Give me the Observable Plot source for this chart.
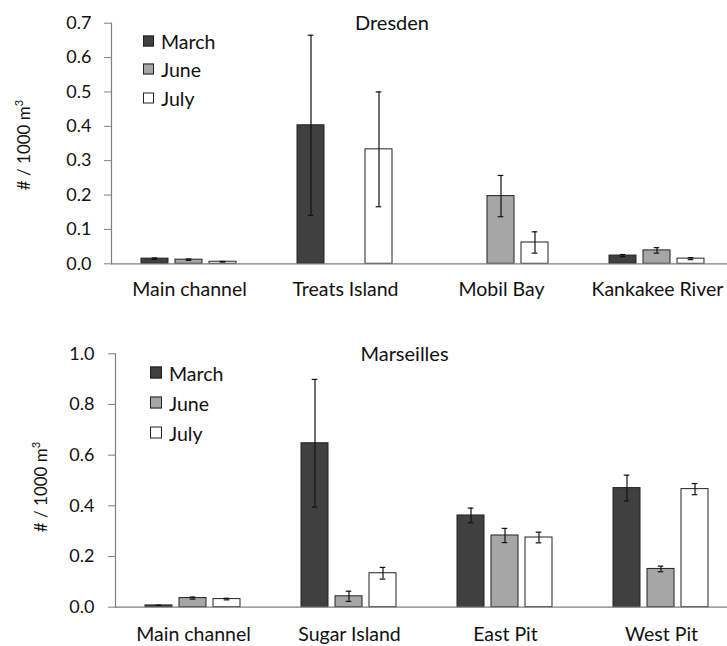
<!DOCTYPE html>
<html><head><meta charset="utf-8">
<script src="https://cdn.jsdelivr.net/npm/d3@7"></script>
<script src="https://cdn.jsdelivr.net/npm/@observablehq/plot@0.6"></script>
<style>
body{margin:0;background:#fff;font-family:Lato,sans-serif;color:#111}
.panel{position:relative;width:727px;overflow:hidden}
.title{position:absolute;font-size:20px;transform:translate(-50%,-50%);white-space:nowrap}
.ylab{position:absolute;font-size:17px;transform:translate(-50%,-50%) rotate(-90deg);white-space:nowrap}
.ylab sup{font-size:11px}
.item{position:absolute;display:flex;align-items:center;white-space:nowrap;font-size:19.5px;transform:translateY(-50%)}
.sw{box-sizing:border-box;border:1px solid #222;margin-right:7px}
</style></head><body>
<div id="top" class="panel" style="height:300px"></div>
<div id="bottom" class="panel" style="height:346px"></div>
<script>
// ---- data ----
const months = ["March", "June", "July"];
const monthFills = ["#404040", "#a6a6a6", "#ffffff"];

const dresdenSites = ["Main channel", "Treats Island", "Mobil Bay", "Kankakee River"];
const dresdenMarch    = [0.015, 0.403, null, 0.024];
const dresdenMarchErr = [0.002, 0.262, null, 0.003];
const dresdenJune     = [0.012, null, 0.197, 0.039];
const dresdenJuneErr  = [0.002, null, 0.060, 0.008];
const dresdenJuly     = [0.006, 0.333, 0.062, 0.015];
const dresdenJulyErr  = [0.001, 0.167, 0.031, 0.003];
const dresdenTicks = [0, 0.1, 0.2, 0.3, 0.4, 0.5, 0.6, 0.7];

const marseillesSites = ["Main channel", "Sugar Island", "East Pit", "West Pit"];
const marseillesMarch    = [0.007, 0.647, 0.362, 0.470];
const marseillesMarchErr = [0.001, 0.252, 0.029, 0.051];
const marseillesJune     = [0.036, 0.043, 0.283, 0.151];
const marseillesJuneErr  = [0.004, 0.020, 0.028, 0.011];
const marseillesJuly     = [0.032, 0.134, 0.275, 0.466];
const marseillesJulyErr  = [0.003, 0.023, 0.021, 0.022];
const marseillesTicks = [0, 0.2, 0.4, 0.6, 0.8, 1.0];

// ---- build ----
function rows(sites, series) {
  const out = [];
  sites.forEach((s, i) => months.forEach((m, j) => {
    const v = series[j][0][i];
    if (v != null) out.push({site: s, month: m, v, e: series[j][1][i]});
  }));
  return out;
}

function panel(data, sites, ticks, o) {
  const step = 156.6;
  return Plot.plot({
    width: 727, height: o.height,
    marginLeft: o.left, marginRight: 0, marginTop: o.top, marginBottom: o.bottom,
    style: {fontFamily: "Lato, sans-serif", fontSize: "16px", color: "#111", background: "#fff", overflow: "visible"},
    fx: {domain: sites, range: [o.left, o.left + sites.length * step], padding: 0, label: null},
    x: {domain: months, paddingInner: 0.2, paddingOuter: 0.857, axis: null},
    y: {domain: [0, ticks[ticks.length - 1]], label: null},
    color: {domain: months, range: monthFills},
    marks: [
      Plot.barY(data, {fx: "site", x: "month", y: "v", fill: "month", stroke: "#222", strokeWidth: 1}),
      Plot.ruleX(data, {fx: "site", x: "month", y1: d => d.v - d.e, y2: d => d.v + d.e, stroke: "#111", strokeWidth: 1.2}),
      Plot.tickY(data, {fx: "site", x: "month", y: d => d.v + d.e, insetLeft: 10.7, insetRight: 10.7, stroke: "#111", strokeWidth: 1.2}),
      Plot.tickY(data, {fx: "site", x: "month", y: d => d.v - d.e, insetLeft: 10.7, insetRight: 10.7, stroke: "#111", strokeWidth: 1.2}),
      Plot.ruleY([0], {stroke: "#7f7f7f", strokeWidth: 1.2}),
      Plot.frame({anchor: "left", facetAnchor: "left", stroke: "#7f7f7f", strokeWidth: 1.2}),
      Plot.axisY({ticks, tickFormat: d3.format(".1f"), tickSize: 7, tickPadding: o.yPad, stroke: "#7f7f7f", fill: "#111", fontSize: 18, label: null}),
      Plot.axisFx({anchor: "bottom", tickSize: 0, tickPadding: o.fxPad, fontSize: 19.5, fill: "#111", label: null})
    ]
  });
}

function decorate(el, cfg) {
  const t = document.createElement("div");
  t.className = "title"; t.textContent = cfg.title;
  t.style.left = cfg.titleX + "px"; t.style.top = cfg.titleY + "px";
  el.appendChild(t);
  const yl = document.createElement("div");
  yl.className = "ylab"; yl.innerHTML = "# / 1000 m<sup>3</sup>";
  yl.style.left = cfg.ylabX + "px"; yl.style.top = cfg.ylabY + "px";
  el.appendChild(yl);
  months.forEach((m, i) => {
    const it = document.createElement("div");
    it.className = "item";
    it.style.left = cfg.legX + "px";
    it.style.top = (cfg.legY + i * cfg.legStep) + "px";
    const sw = document.createElement("span");
    sw.className = "sw";
    sw.style.width = cfg.sw + "px"; sw.style.height = cfg.sw + "px";
    sw.style.background = monthFills[i];
    it.appendChild(sw);
    it.appendChild(document.createTextNode(m));
    el.appendChild(it);
  });
}

const topEl = document.getElementById("top");
topEl.appendChild(panel(
  rows(dresdenSites, [[dresdenMarch, dresdenMarchErr], [dresdenJune, dresdenJuneErr], [dresdenJuly, dresdenJulyErr]]),
  dresdenSites, dresdenTicks,
  {height: 300, left: 110, top: 22.7, bottom: 36.7, fxPad: 18, yPad: 13}
));
decorate(topEl, {title: "Dresden", titleX: 392, titleY: 22, ylabX: 23, ylabY: 145,
  legX: 143, legY: 41, legStep: 28.3, sw: 11});

const botEl = document.getElementById("bottom");
botEl.appendChild(panel(
  rows(marseillesSites, [[marseillesMarch, marseillesMarchErr], [marseillesJune, marseillesJuneErr], [marseillesJuly, marseillesJulyErr]]),
  marseillesSites, marseillesTicks,
  {height: 346, left: 114, top: 53.3, bottom: 39.3, fxPad: 19.5, yPad: 14}
));
decorate(botEl, {title: "Marseilles", titleX: 404.5, titleY: 53, ylabX: 40, ylabY: 187,
  legX: 150, legY: 72.7, legStep: 30, sw: 12});
</script>
</body></html>
